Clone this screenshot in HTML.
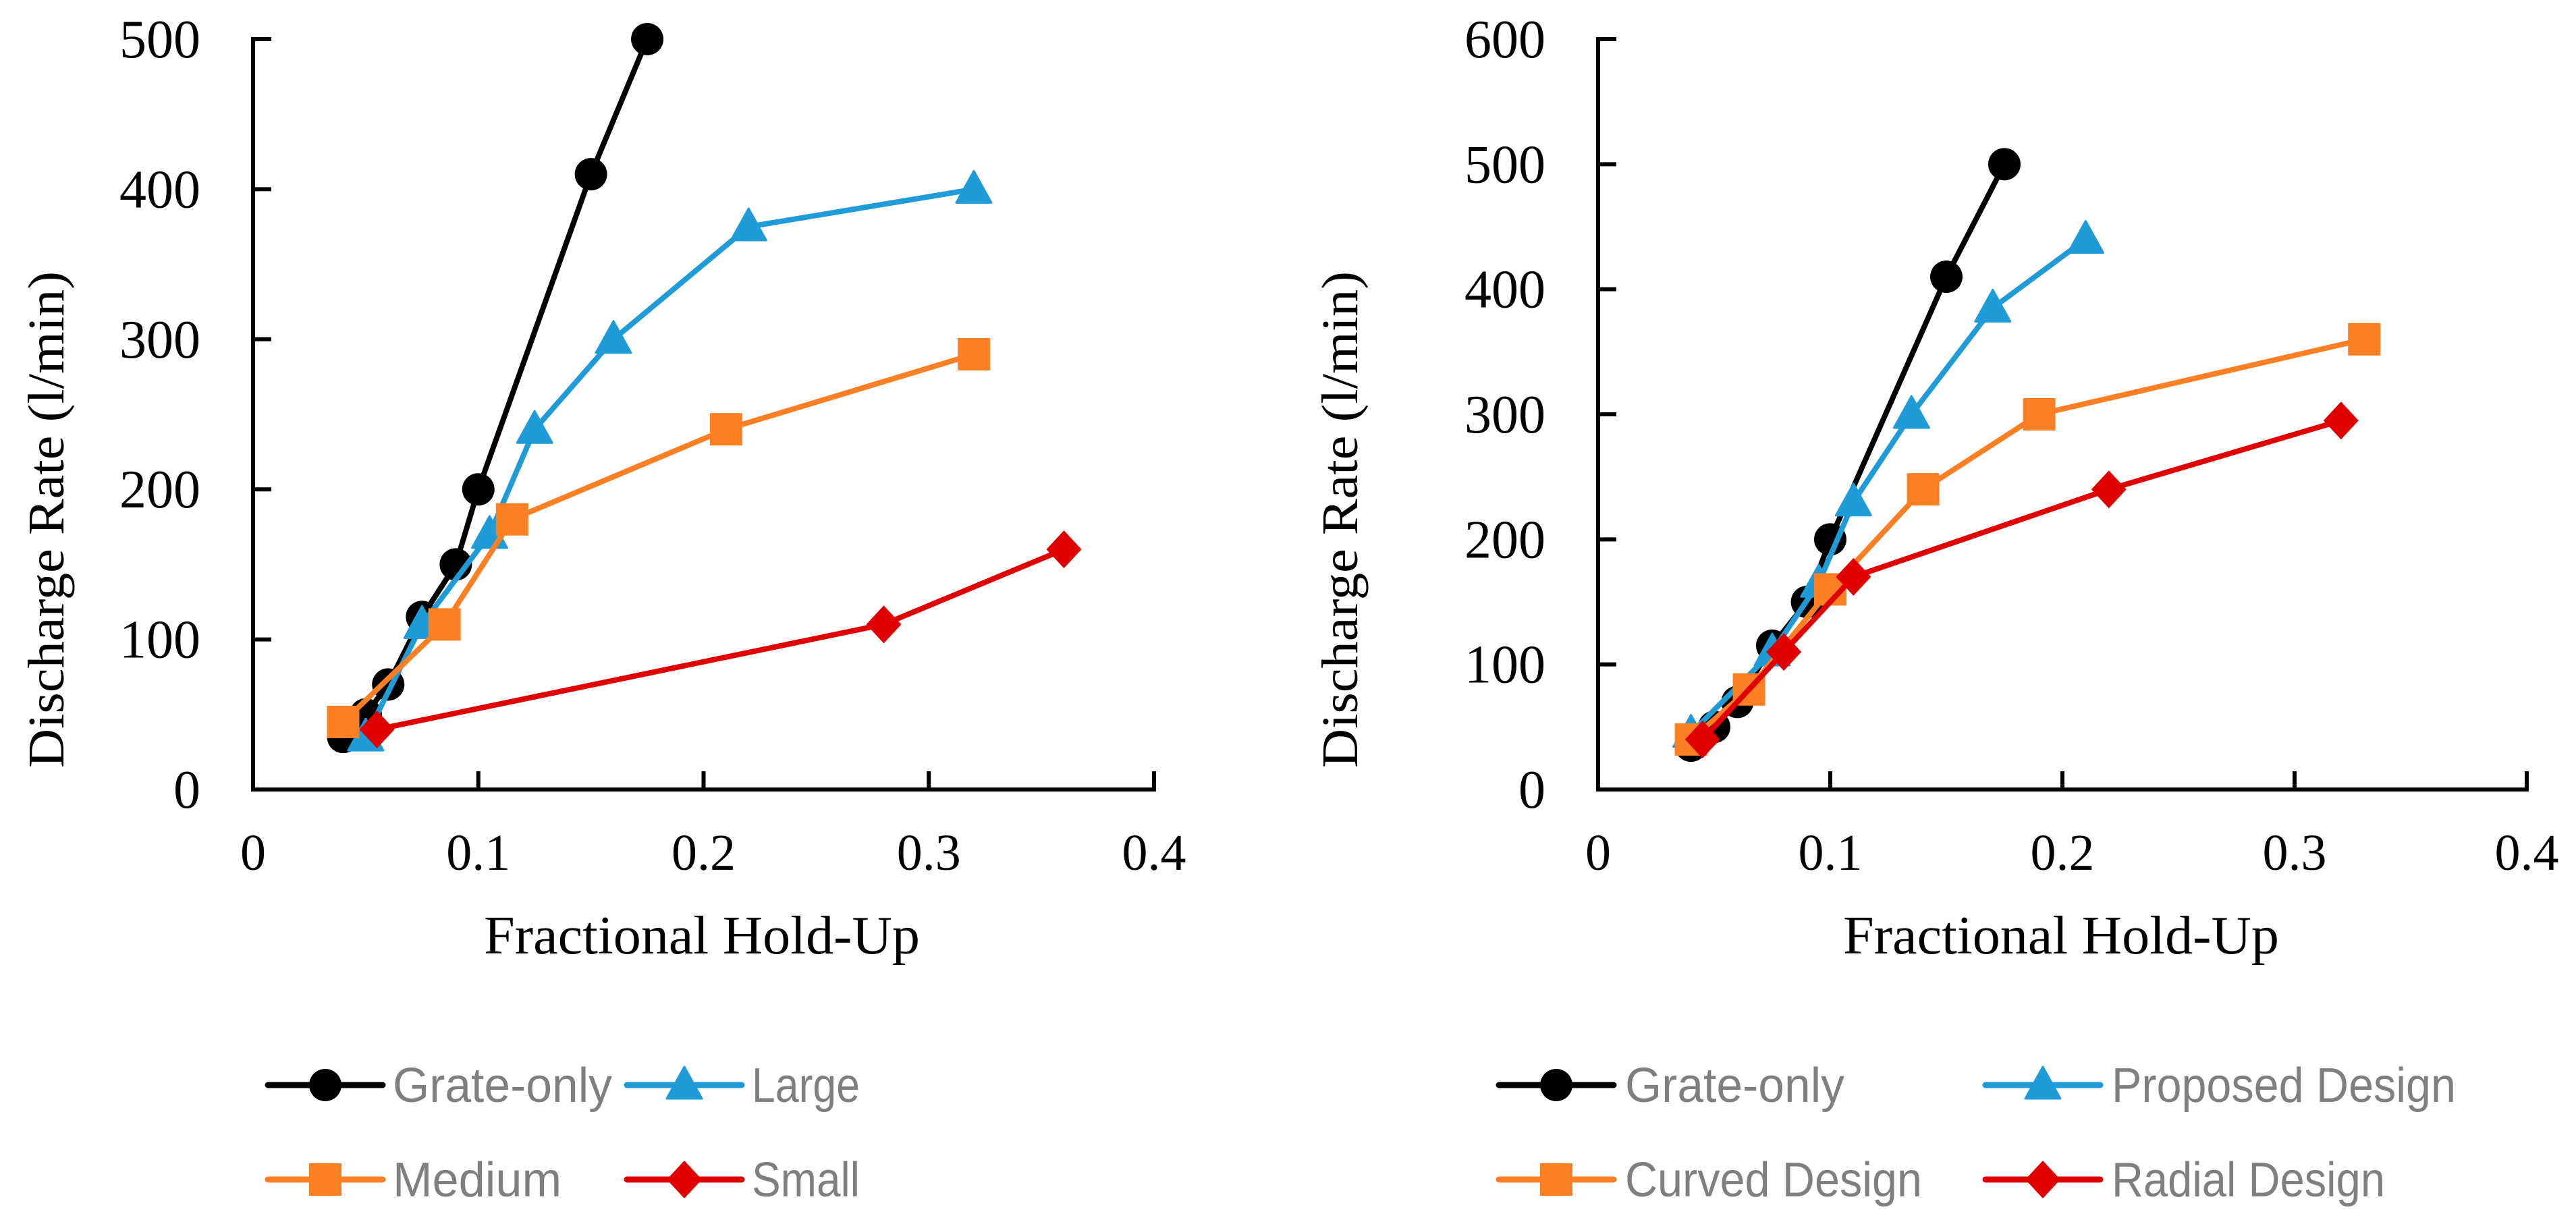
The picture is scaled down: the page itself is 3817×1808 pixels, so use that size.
<!DOCTYPE html>
<html><head><meta charset="utf-8">
<style>
html,body{margin:0;padding:0;background:#fff;}
svg{display:block;}
</style></head>
<body>
<svg id="fig" xmlns="http://www.w3.org/2000/svg" width="3817" height="1808" viewBox="0 0 3817 1808"></svg>
<script>
// ---- data: left chart ----
const leftXTicks = [0, 0.1, 0.2, 0.3, 0.4];
const leftYTicks = [0, 100, 200, 300, 400, 500];
const leftGrateX = [0.04, 0.05, 0.06, 0.075, 0.09, 0.1, 0.15, 0.175];
const leftGrateY = [35, 50, 70, 115, 150, 200, 410, 500];
const largeX = [0.05, 0.075, 0.105, 0.125, 0.16, 0.22, 0.32];
const largeY = [35, 110, 170, 240, 300, 375, 400];
const mediumX = [0.04, 0.085, 0.115, 0.21, 0.32];
const mediumY = [45, 110, 180, 240, 290];
const smallX = [0.055, 0.28, 0.36];
const smallY = [40, 110, 160];
// ---- data: right chart ----
const rightXTicks = [0, 0.1, 0.2, 0.3, 0.4];
const rightYTicks = [0, 100, 200, 300, 400, 500, 600];
const rightGrateX = [0.04, 0.05, 0.06, 0.075, 0.09, 0.1, 0.15, 0.175];
const rightGrateY = [35, 50, 70, 115, 150, 200, 410, 500];
const proposedX = [0.04, 0.075, 0.095, 0.11, 0.135, 0.17, 0.21];
const proposedY = [45, 110, 165, 230, 300, 385, 440];
const curvedX = [0.04, 0.065, 0.1, 0.14, 0.19, 0.33];
const curvedY = [40, 80, 160, 240, 300, 360];
const radialX = [0.045, 0.08, 0.11, 0.22, 0.32];
const radialY = [40, 110, 170, 240, 295];

const NS = "http://www.w3.org/2000/svg";
const svg = document.getElementById('fig');
function mk(tag, attrs, parent){
  const e = document.createElementNS(NS, tag);
  for (const k in attrs) e.setAttribute(k, attrs[k]);
  (parent||svg).appendChild(e);
  return e;
}
const COL = {black:'#000000', blue:'#1f9bd7', orange:'#fd7f24', red:'#e00000'};

function marker(g, type, cx, cy, color){
  let e;
  if (type==='circle') e = mk('circle',{cx:cx,cy:cy,r:24,fill:color},g);
  else if (type==='tri') e = mk('polygon',{points:`${cx},${cy-27} ${cx+26},${cy+20} ${cx-26},${cy+20}`,fill:color,'stroke':color,'stroke-width':3,'stroke-linejoin':'round'},g);
  else if (type==='square') e = mk('rect',{x:cx-24,y:cy-24,width:48,height:48,fill:color},g);
  else e = mk('polygon',{points:`${cx},${cy-28} ${cx+26},${cy} ${cx},${cy+28} ${cx-26},${cy}`,fill:color},g);
  return e;
}

function chart(cfg){
  const g = mk('g',{});
  
  
  const x0=cfg.ax, x1=cfg.axEnd, y0=1170, y1=58;
  const xMax=cfg.xTicks[cfg.xTicks.length-1], yMax=cfg.yTicks[cfg.yTicks.length-1];
  const sx = v => x0 + (x1-x0)*v/xMax;
  const sy = v => y0 - (y0-y1)*v/yMax;
  const ya = mk('line',{x1:x0,y1:y1-3,x2:x0,y2:y0+3,stroke:'#000','stroke-width':6},g);
   
  const xa = mk('line',{x1:x0-3,y1:y0,x2:x1+3,y2:y0,stroke:'#000','stroke-width':6},g);
   
  cfg.yTicks.forEach(t=>{
    mk('line',{x1:x0,y1:sy(t),x2:x0+27,y2:sy(t),stroke:'#000','stroke-width':6},g);
    const tx = mk('text',{x:x0-78,y:sy(t)+27,'text-anchor':'end','font-family':'"Liberation Serif",serif','font-size':80,fill:'#000'},g);
    tx.textContent = t;
     
  });
  cfg.xTicks.forEach(t=>{
    if (t>0) mk('line',{x1:sx(t),y1:y0,x2:sx(t),y2:y0-27,stroke:'#000','stroke-width':6},g);
    const tx = mk('text',{x:sx(t),y:1289,'text-anchor':'middle','font-family':'"Liberation Serif",serif','font-size':76,fill:'#000'},g);
    tx.textContent = t;
     
  });
  const yt = mk('text',{x:0,y:0,transform:`translate(${cfg.ytx},770) rotate(-90)`,'text-anchor':'middle','font-family':'"Liberation Serif",serif','font-size':76,fill:'#000',textLength:736,lengthAdjust:'spacingAndGlyphs'},g);
  yt.textContent='Discharge Rate (l/min)';
   
  const xt = mk('text',{x:cfg.xtc,y:1413,'text-anchor':'middle','font-family':'"Liberation Serif",serif','font-size':80,fill:'#000',textLength:646,lengthAdjust:'spacingAndGlyphs'},g);
  xt.textContent='Fractional Hold-Up';
   
  cfg.series.forEach(s=>{
    const sg = mk('g',{},g);
    
    
    const pts = s.xs.map((x,i)=>sx(x)+','+sy(s.ys[i])).join(' ');
    const pl = mk('polyline',{points:pts,fill:'none',stroke:s.color,'stroke-width':8,'stroke-linejoin':'round','stroke-linecap':'round'},sg);
     
    s.xs.forEach((x,i)=>{
      const m = marker(sg, s.type, sx(x), sy(s.ys[i]), s.color);
      
      
    });
  });
  cfg.legend.forEach(L=>{
    const lg = mk('g',{},g);
    
    
    mk('line',{x1:L.lx,y1:L.y,x2:L.lx+170,y2:L.y,stroke:L.color,'stroke-width':9,'stroke-linecap':'round'},lg);
    marker(lg, L.type, L.lx+85, L.y, L.color);
    const t = mk('text',{x:L.tx,y:L.y+25,'font-family':'"Liberation Sans",sans-serif','font-size':72,fill:'#7f7f7f',textLength:L.tl,lengthAdjust:'spacingAndGlyphs'},lg);
    t.textContent = L.label;
  });
}

chart({name:'left-chart', ax:375, axEnd:1710, xTicks:leftXTicks, yTicks:leftYTicks, ytx:94, xtc:1040,
  series:[
    {key:'grate-only',xs:leftGrateX,ys:leftGrateY,color:COL.black,type:'circle'},
    {key:'large',xs:largeX,ys:largeY,color:COL.blue,type:'tri'},
    {key:'medium',xs:mediumX,ys:mediumY,color:COL.orange,type:'square'},
    {key:'small',xs:smallX,ys:smallY,color:COL.red,type:'diamond'}],
  legend:[
    {lx:397,tx:582,y:1608,color:COL.black,type:'circle',label:'Grate-only',tl:325},
    {lx:929,tx:1114,y:1608,color:COL.blue,type:'tri',label:'Large',tl:160},
    {lx:397,tx:582,y:1748,color:COL.orange,type:'square',label:'Medium',tl:250},
    {lx:929,tx:1114,y:1748,color:COL.red,type:'diamond',label:'Small',tl:160}]
});
chart({name:'right-chart', ax:2368, axEnd:3744, xTicks:rightXTicks, yTicks:rightYTicks, ytx:2011, xtc:3054,
  series:[
    {key:'grate-only',xs:rightGrateX,ys:rightGrateY,color:COL.black,type:'circle'},
    {key:'proposed-design',xs:proposedX,ys:proposedY,color:COL.blue,type:'tri'},
    {key:'curved-design',xs:curvedX,ys:curvedY,color:COL.orange,type:'square'},
    {key:'radial-design',xs:radialX,ys:radialY,color:COL.red,type:'diamond'}],
  legend:[
    {lx:2221,tx:2408,y:1608,color:COL.black,type:'circle',label:'Grate-only',tl:325},
    {lx:2942,tx:3129,y:1608,color:COL.blue,type:'tri',label:'Proposed Design',tl:510},
    {lx:2221,tx:2408,y:1748,color:COL.orange,type:'square',label:'Curved Design',tl:440},
    {lx:2942,tx:3129,y:1748,color:COL.red,type:'diamond',label:'Radial Design',tl:405}]
});
</script>
</body></html>
